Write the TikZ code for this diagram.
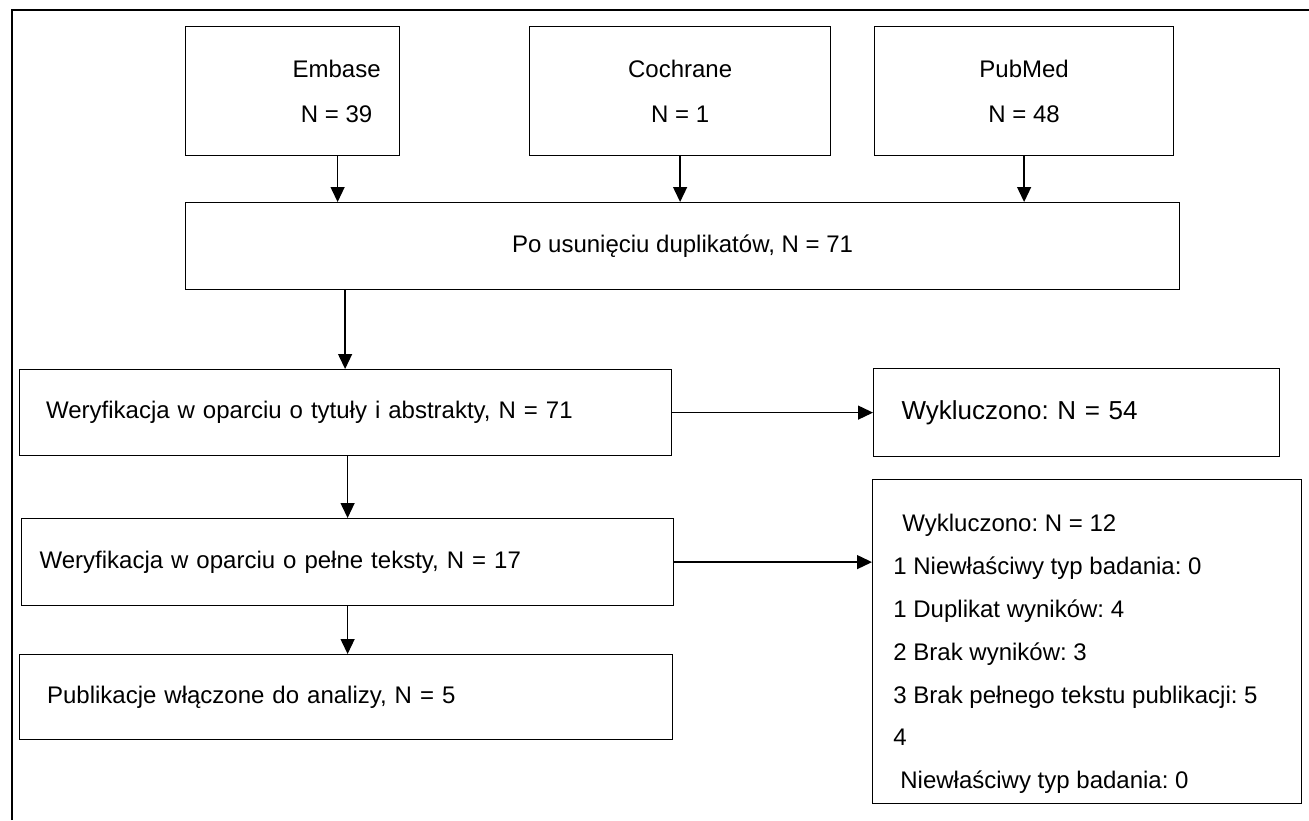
\documentclass[tikz,border=0pt]{standalone}
\usepackage{fontspec}
\setmainfont{Liberation Sans}
\usetikzlibrary{arrows.meta}
\frenchspacing

\begin{document}
\begin{tikzpicture}[x=0.5pt,y=-0.5pt,
  every node/.style={font=\fontsize{12}{22.5}\selectfont\frenchspacing},
  box/.style={draw=black,line width=0.6pt,anchor=north west},
  srcbox/.style={box,minimum height=64.5pt,align=center},
  stagebox/.style={box,align=left,inner xsep=#1},
  flow/.style={-{Triangle[length=7.5pt,width=7pt]},line width=0.65pt}]
\useasboundingbox (0,0) rectangle (1309,820);
\fill[white] (0,0) rectangle (1309,820);
% Frame round the chart
\draw[line width=1pt] (11.5,820) -- (11.5,10) -- (1309,10);
% Sources
\node[srcbox,minimum width=107pt] (embase) at (185,26) {};
\node[align=center] (embasetxt) at ([xshift=22pt]embase.center) {Embase\\N = 39};
\node[srcbox,minimum width=150.5pt] (cochrane) at (529,26) {Cochrane\\N = 1};
\node[srcbox,minimum width=149.5pt] (pubmed) at (874,26) {PubMed\\N = 48};
% After removing duplicates
\node[box,minimum width=497pt,minimum height=43.5pt] (dedup) at (185,202) {Po usunięciu duplikatów, N = 71};
% Screening stages
\node[stagebox=13.5pt,text width=299pt,minimum height=43pt] (titles) at (18.5,369)
  {Weryfikacja w oparciu o tytuły i abstrakty, N = 71};
\node[stagebox=9pt,text width=308pt,minimum height=43.5pt] (fulltext) at (21,518)
  {Weryfikacja w oparciu o pełne teksty, N = 17};
\node[stagebox=13.75pt,text width=299pt,minimum height=42.5pt] (included) at (19,654)
  {Publikacje włączone do analizy, N = 5};
% Exclusions
\node[stagebox=14pt,text width=175pt,minimum height=44pt,font=\fontsize{13}{16}\selectfont\frenchspacing] (excl54) at (873,368)
  {Wykluczono: N = 54};
\node[box,minimum width=214.5pt,minimum height=162pt] (excl12) at (872,479) {};
\node[anchor=north west,inner sep=0pt,align=left,font=\fontsize{12}{21.4}\selectfont\frenchspacing] (excl12txt) at (893,514)
  {\hspace*{4.5pt}Wykluczono: N = 12\\
   1 Niewłaściwy typ badania: 0\\
   1 Duplikat wyników: 4\\
   2 Brak wyników: 3\\
   3 Brak pełnego tekstu publikacji: 5\\
   4\\
   \hspace*{3.5pt}Niewłaściwy typ badania: 0};
% Connectors
\draw[flow] ([xshift=22.5pt]embase.south) -- ([xshift=22.5pt]embase.south |- dedup.north);
\draw[flow] (cochrane.south) -- (cochrane.south |- dedup.north);
\draw[flow] (pubmed.south) -- (pubmed.south |- dedup.north);
\draw[flow] (titles.north |- dedup.south) -- (titles.north);
\draw[flow] (fulltext.north |- titles.south) -- (fulltext.north);
\draw[flow] (fulltext.south) -- (fulltext.south |- included.north);
\draw[flow] (titles.east) -- (titles.east -| excl54.west);
\draw[flow] (fulltext.east) -- (fulltext.east -| excl12.west);
\end{tikzpicture}
\end{document}
